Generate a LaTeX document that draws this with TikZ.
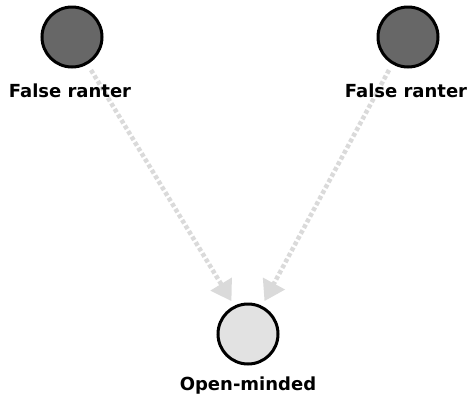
\documentclass[tikz,border=0pt]{standalone}
\usepackage{fontspec}
\setmainfont{DejaVu Sans}
\usetikzlibrary{arrows.meta}
\definecolor{ranterfill}{HTML}{676767}
\definecolor{openfill}{HTML}{E2E2E2}
\definecolor{linkgray}{HTML}{DADADA}
\tikzset{
  agent/.style={circle, draw=black, line width=3pt, minimum size=60pt, inner sep=0pt},
  ranter/.style={agent, fill=ranterfill},
  openmind/.style={agent, fill=openfill},
  lbl/.style={font=\bfseries\fontsize{18}{20}\selectfont, text=black, inner sep=0pt},
  influence/.style={draw=linkgray, line width=4.5pt, dash pattern=on 4pt off 2.5pt,
    -{Triangle[length=20pt,width=24pt,fill=linkgray]}, shorten >=1pt}
}
\begin{document}
\begin{tikzpicture}[x=1pt,y=-1pt]
  \useasboundingbox (0,0) rectangle (469,400);
  \node[ranter] (r1) at (72,37) {};
  \node[ranter] (r2) at (408,37) {};
  \node[openmind] (o) at (248,334) {};
  \coordinate (s1) at (91,70);
  \coordinate (s2) at (389,70);
  \coordinate (t1) at (232,302);
  \coordinate (t2) at (264,302);
  \draw[influence] (s1) -- (t1);
  \draw[influence] (s2) -- (t2);
  \node[lbl] (l1) at (70,91) {False ranter};
  \node[lbl] (l2) at (406,91) {False ranter};
  \node[lbl] (l3) at (248,386) {Open-minded};
\end{tikzpicture}
\end{document}
